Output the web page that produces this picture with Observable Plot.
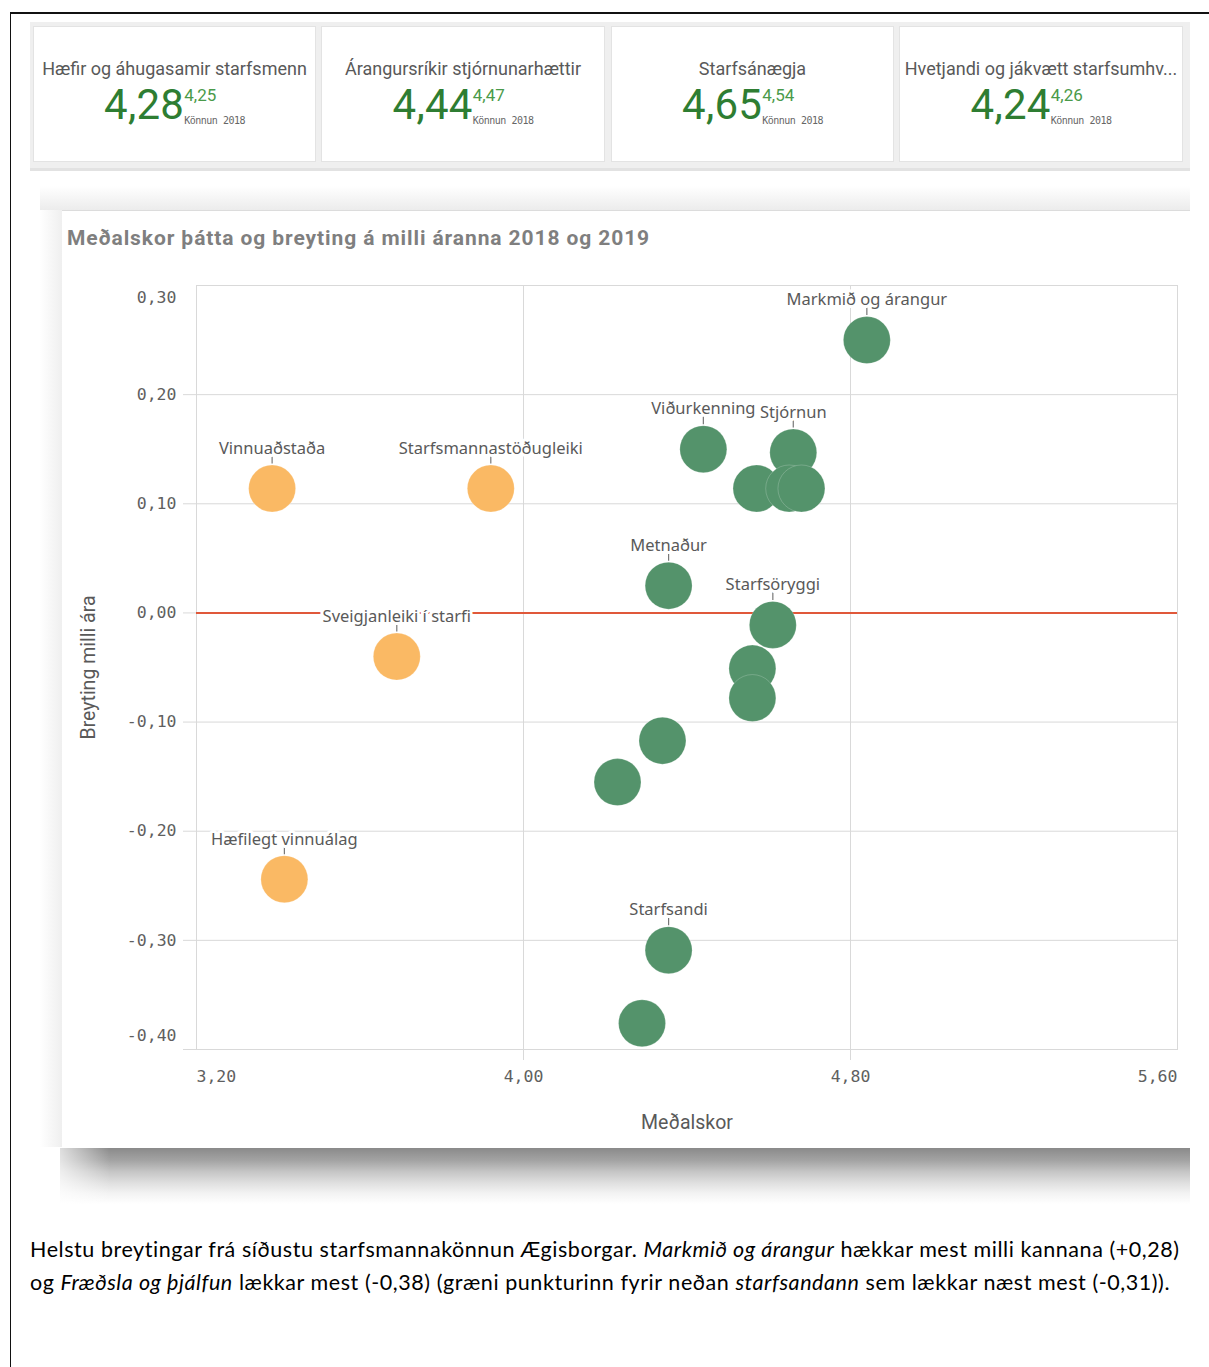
<!DOCTYPE html>
<html>
<head>
<meta charset="utf-8">
<script src="https://cdn.jsdelivr.net/npm/d3@7"></script>
<script src="https://cdn.jsdelivr.net/npm/@observablehq/plot@0.6"></script>
<style>
  html, body { margin: 0; padding: 0; background: #fff; }
  body { width: 1209px; height: 1367px; position: relative; overflow: hidden; font-family: Roboto, "Noto Sans", sans-serif; }
  .abs { position: absolute; }
  #outer { left: 10px; top: 12px; width: 1300px; height: 1400px; border-left: 1.5px solid #111; border-top: 2px solid #111; }
  #strip { left: 30px; top: 22px; width: 1160px; height: 146px; background: #efefef; border-bottom: 3px solid #e2e2e2; }
  .card { position: absolute; top: 4px; height: 136px; background: #fff; border: 1px solid #e3e3e3; box-sizing: border-box; text-align: center; }
  .card .t { position: absolute; left: 0; right: 0; top: 31px; font-size: 18px; color: #595959; white-space: nowrap; overflow: hidden; }
  .card .n { position: absolute; left: 0; right: 0; top: 54px; display: flex; justify-content: center; align-items: flex-start; }
  .card .big { font-size: 42px; color: #2e7d32; line-height: 48px; letter-spacing: 0.3px; }
  .card .side { display: flex; flex-direction: column; align-items: flex-start; margin-left: 0px; padding-top: 5px; }
  .card .prev { font-size: 17px; color: #4a9a4a; line-height: 18px; }
  .card .lbl { font-size: 10px; color: #666; line-height: 12px; margin-top: 11px; font-family: "DejaVu Sans Mono", monospace; letter-spacing: -0.5px; }
  #topshadow { left: 40px; top: 186px; width: 1150px; height: 24px; background: linear-gradient(#fff, #ececec); }
  #leftshadow { left: 40px; top: 210px; width: 22px; height: 937px; background: linear-gradient(90deg, #fff, #efefef); }
  #panel { left: 62px; top: 210px; width: 1128px; height: 937px; background: #fff; border-top: 1px solid #dcdcdc; box-sizing: border-box; }
  #botshadow { left: 60px; top: 1148px; width: 1130px; height: 56px; background: linear-gradient(#8a8a8a 0%, #a3a3a3 22%, #c5c5c5 42%, #dfdfdf 62%, #f2f2f2 80%, #fff 100%); }
  #botshadowL { left: 40px; top: 1148px; width: 70px; height: 56px; background: linear-gradient(90deg, #fff, rgba(255,255,255,0)); }
  #title { left: 67px; top: 226px; font-size: 21px; font-weight: bold; color: #7f7f7f; white-space: nowrap; letter-spacing: 0.9px; }
  #chart { left: 62px; top: 210px; }
  #caption { left: 30px; top: 1233px; font-family: Lato, "Noto Sans", sans-serif; font-size: 21.5px; line-height: 33px; color: #000; white-space: nowrap; }
  #caption span { display: block; }
</style>
</head>
<body>
<div id="outer" class="abs"></div>
<div id="strip" class="abs"></div>
<div id="topshadow" class="abs"></div>
<div id="leftshadow" class="abs"></div>
<div id="panel" class="abs"></div>
<div id="botshadow" class="abs"></div>
<div id="botshadowL" class="abs"></div>
<div id="title" class="abs">Meðalskor þátta og breyting á milli áranna 2018 og 2019</div>
<div id="chart" class="abs"></div>
<div id="caption" class="abs"><span id="cap1">Helstu breytingar frá síðustu starfsmannakönnun Ægisborgar. <i>Markmið og árangur</i> hækkar mest milli kannana (+0,28)</span><span id="cap2">og <i>Fræðsla og þjálfun</i> lækkar mest (-0,38) (græni punkturinn fyrir neðan <i>starfsandann</i> sem lækkar næst mest (-0,31)).</span></div>
<script>
// KPI data
const kpiTitles = ["Hæfir og áhugasamir starfsmenn", "Árangursríkir stjórnunarhættir", "Starfsánægja", "Hvetjandi og jákvætt starfsumhv..."];
const kpi2019 = ["4,28", "4,44", "4,65", "4,24"];
const kpi2018 = ["4,25", "4,47", "4,54", "4,26"];
const kpiCompare = "Könnun 2018";

// Scatter data
const factorNames = ["Markmið og árangur", "Viðurkenning", "Stjórnun", "", "", "", "Metnaður", "Starfsöryggi", "", "", "", "", "Starfsandi", "Fræðsla og þjálfun", "Vinnuaðstaða", "Starfsmannastöðugleiki", "Sveigjanleiki í starfi", "Hæfilegt vinnuálag"];
const showLabel = [true, true, true, false, false, false, true, true, false, false, false, false, true, false, true, true, true, true];
const meanScore = [4.84, 4.44, 4.66, 4.57, 4.65, 4.68, 4.355, 4.61, 4.56, 4.56, 4.34, 4.23, 4.355, 4.29, 3.385, 3.92, 3.69, 3.415];
const changeYear = [0.25, 0.15, 0.147, 0.114, 0.114, 0.114, 0.025, -0.011, -0.051, -0.078, -0.117, -0.155, -0.309, -0.376, 0.114, 0.114, -0.04, -0.244];
const group = ["g", "g", "g", "g", "g", "g", "g", "g", "g", "g", "g", "g", "g", "g", "o", "o", "o", "o"];

const xTicks = [3.2, 4.0, 4.8, 5.6];
const yTicks = [0.3, 0.2, 0.1, 0.0, -0.1, -0.2, -0.3, -0.4];

// Build KPI cards
const cardLeft = [3, 291, 581, 869];
const cardWidth = [283, 284, 283, 284];
const strip = document.getElementById("strip");
kpiTitles.forEach((t, i) => {
  const c = document.createElement("div");
  c.className = "card";
  c.style.left = cardLeft[i] + "px";
  c.style.width = cardWidth[i] + "px";
  c.innerHTML = `<div class="t">${t}</div><div class="n"><span class="big">${kpi2019[i]}</span><span class="side"><span class="prev">${kpi2018[i]}</span><span class="lbl">${kpiCompare}</span></span></div>`;
  strip.appendChild(c);
});

// Fit caption line 1 to the reference width
const cap = document.getElementById("caption");
const cap1 = document.getElementById("cap1");
const w0 = cap1.getBoundingClientRect().width;
const n1 = cap1.textContent.length;
cap.style.letterSpacing = ((1150 - w0) / n1).toFixed(3) + "px";

const data = factorNames.map((name, i) => ({
  name, label: showLabel[i] ? name : "", x: meanScore[i], y: changeYear[i], group: group[i]
}));
const labeled = data.filter(d => d.label);

const fmt = d => d.toFixed(2).replace(".", ",");
const gridColor = "#d9d9d9";
const tickFont = {fontFamily: "DejaVu Sans Mono, monospace", fontSize: 16.5, fill: "#5f5f5f"};
const mid = yTicks.filter(v => v !== 0.3 && v !== -0.4);

const chart = Plot.plot({
  width: 1128,
  height: 937,
  marginLeft: 134,
  marginRight: 13,
  marginTop: 75,
  marginBottom: 98,
  style: {background: "transparent", overflow: "visible"},
  x: {domain: [3.2, 5.6]},
  y: {domain: [-0.4, 0.3]},
  color: {domain: ["g", "o"], range: ["#54936b", "#fab964"]},
  marks: [
    Plot.gridX([4.0, 4.8], {stroke: gridColor, strokeOpacity: 1}),
    Plot.gridY(yTicks, {stroke: gridColor, strokeOpacity: 1}),
    Plot.frame({stroke: gridColor}),
    // tick lines
    Plot.axisY(yTicks.filter(v => v !== 0.3), {tickSize: 13, tickFormat: () => "", stroke: gridColor, label: null}),
    Plot.axisX([4.0, 4.8], {tickSize: 11, tickFormat: () => "", stroke: gridColor, label: null}),
    // tick labels
    Plot.axisY(mid, {tickSize: 0, tickPadding: 20, tickFormat: fmt, label: null, ...tickFont}),
    Plot.axisY([0.3], {tickSize: 0, tickPadding: 20, tickFormat: fmt, label: null, dy: 12, ...tickFont}),
    Plot.axisY([-0.4], {tickSize: 0, tickPadding: 20, tickFormat: fmt, label: null, dy: -14, ...tickFont}),
    Plot.axisX([4.0, 4.8], {tickSize: 0, tickPadding: 21, tickFormat: fmt, label: null, ...tickFont}),
    Plot.axisX([3.2], {tickSize: 0, tickPadding: 21, tickFormat: fmt, label: null, textAnchor: "start", ...tickFont}),
    Plot.axisX([5.6], {tickSize: 0, tickPadding: 21, tickFormat: fmt, label: null, textAnchor: "end", ...tickFont}),
    // reference line
    Plot.ruleY([0], {stroke: "#e0583a", strokeWidth: 2}),
    // axis titles
    Plot.text(["Meðalskor"], {frameAnchor: "bottom", dy: 79, textAnchor: "middle", fontSize: 19.5, fill: "#595959", fontFamily: "Roboto, sans-serif"}),
    Plot.text(["Breyting milli ára"], {frameAnchor: "left", dx: -108, rotate: -90, textAnchor: "middle", fontSize: 19.5, fill: "#595959", fontFamily: "Roboto, sans-serif"}),
    // points
    Plot.dot(data, {x: "x", y: "y", r: 23.5, fill: "group", stroke: "#ffffff", strokeWidth: 0.8, strokeOpacity: 0.25}),
    // leader ticks
    Plot.dot(labeled, {x: "x", y: "y", dy: -29, r: 4, stroke: "#777", strokeWidth: 1.2, fill: "none",
      symbol: {draw(ctx, size) { ctx.moveTo(0, -4); ctx.lineTo(0, 4); }}}),
    // labels
    Plot.text(labeled, {x: "x", y: "y", text: "label", dy: -40, fontSize: 16.5, fill: "#595959",
      stroke: "white", strokeWidth: 6, fontFamily: "Noto Sans, sans-serif"})
  ]
});
document.getElementById("chart").appendChild(chart);
</script>
</body>
</html>
